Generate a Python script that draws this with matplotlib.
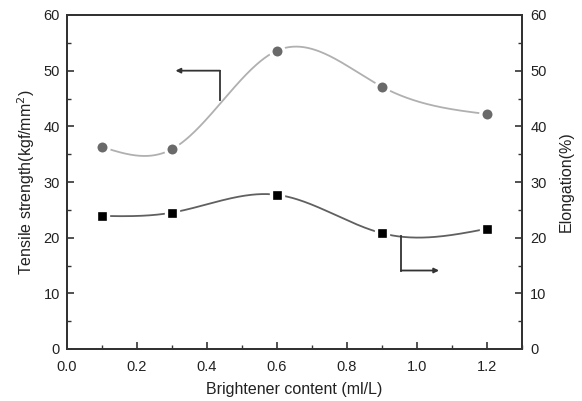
import numpy as np
import matplotlib
matplotlib.use("Agg")
import matplotlib.pyplot as plt

plt.rcParams['font.family'] = ['Liberation Sans', 'DejaVu Sans']

content = [0.1, 0.3, 0.6, 0.9, 1.2]
tensile = [36.3, 35.9, 53.6, 47.1, 42.2]
elongation = [23.9, 24.5, 27.7, 20.8, 21.6]


def natural_spline(x, y, n=300):
    x = np.asarray(x, float); y = np.asarray(y, float)
    m = len(x); h = np.diff(x)
    A = np.zeros((m, m)); b = np.zeros(m)
    A[0, 0] = A[-1, -1] = 1
    for i in range(1, m - 1):
        A[i, i - 1] = h[i - 1]; A[i, i] = 2 * (h[i - 1] + h[i]); A[i, i + 1] = h[i]
        b[i] = 6 * ((y[i + 1] - y[i]) / h[i] - (y[i] - y[i - 1]) / h[i - 1])
    M = np.linalg.solve(A, b)
    xs = np.linspace(x[0], x[-1], n)
    idx = np.clip(np.searchsorted(x, xs) - 1, 0, m - 2)
    x0 = x[idx]; x1 = x[idx + 1]; hh = x1 - x0
    t0 = x1 - xs; t1 = xs - x0
    ys = (M[idx] * t0**3 + M[idx + 1] * t1**3) / (6 * hh) \
        + (y[idx] / hh - M[idx] * hh / 6) * t0 + (y[idx + 1] / hh - M[idx + 1] * hh / 6) * t1
    return xs, ys


fig = plt.figure(figsize=(5.82, 4.01), dpi=100)
ax = fig.add_axes([67 / 582, 1 - 349 / 401, (522 - 67) / 582, (349 - 15) / 401])
ax2 = ax.twinx()

spine_c = '#333333'
for a in (ax, ax2):
    for s in a.spines.values():
        s.set_linewidth(1.4); s.set_color(spine_c)
    a.set_ylim(0, 60)
    a.set_yticks(np.arange(0, 61, 10))
    a.set_yticks(np.arange(0, 61, 5), minor=True)
    a.tick_params(which='both', direction='in', colors=spine_c, labelsize=10.5, labelcolor='#222222')
    a.tick_params(which='major', length=5, width=1.2)
    a.tick_params(which='minor', length=3, width=1.0)

ax.set_xlim(0, 1.3)
ax.set_xticks(np.arange(0, 1.21, 0.2))
ax.set_xticks(np.arange(0, 1.31, 0.1), minor=True)
ax.set_xticklabels([f'{v:.1f}' for v in np.arange(0, 1.21, 0.2)])
ax.tick_params(axis='x', which='major', pad=8)
ax.tick_params(axis='y', which='major', pad=5)
ax2.tick_params(axis='y', which='major', pad=6)

xs, ys = natural_spline(content, tensile)
ax.plot(xs, ys, color='#b0b0b0', lw=1.3, zorder=2)
ax.plot(content, tensile, 'o', color='#6a6a6a', ms=9.6, mec='white', mew=2.4, zorder=3)

xs2, ys2 = natural_spline(content, elongation)
ax2.plot(xs2, ys2, color='#606060', lw=1.3, zorder=2)
ax2.plot(content, elongation, 's', color='black', ms=8.4, mec='white', mew=2.4, zorder=3)

# indicator arrows
ax.plot([0.436, 0.436], [44.7, 50.0], color='#333333', lw=1.3)
ax.annotate('', xy=(0.31, 50.0), xytext=(0.437, 50.0),
            arrowprops=dict(arrowstyle='-|>', color='#333333', lw=1.3, mutation_scale=7, shrinkA=0, shrinkB=0))
ax2.plot([0.955, 0.955], [20.3, 14.1], color='#333333', lw=1.3)
ax2.annotate('', xy=(1.063, 14.1), xytext=(0.954, 14.1),
             arrowprops=dict(arrowstyle='-|>', color='#333333', lw=1.3, mutation_scale=7, shrinkA=0, shrinkB=0))

ax.set_xlabel('Brightener content (ml/L)', fontsize=11.5, color='#222222', labelpad=6)
ax.set_ylabel('Tensile strength(kgf/mm$^2$)', fontsize=11.5, color='#222222', labelpad=5)
ax2.set_ylabel('Elongation(%)', fontsize=11.5, color='#222222', labelpad=9)

fig.savefig('out.png', dpi=100)
